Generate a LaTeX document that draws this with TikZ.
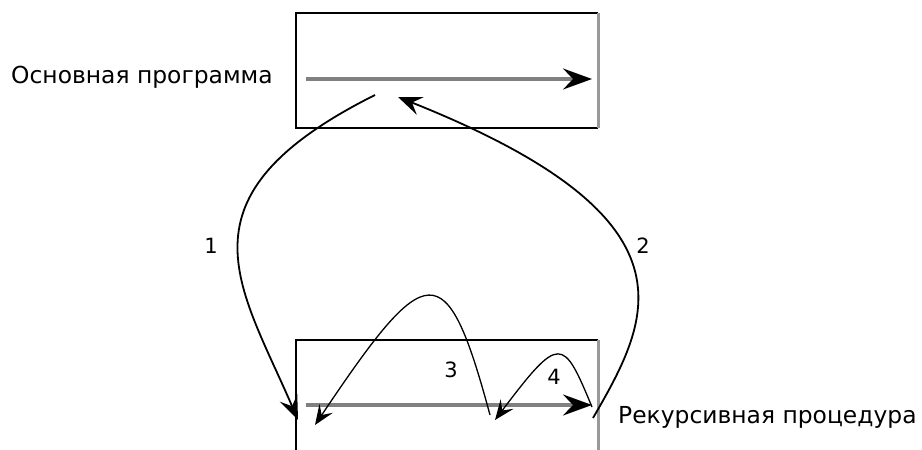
\documentclass[tikz,border=0pt]{standalone}
\usepackage{fontspec}
\setmainfont{DejaVu Sans}
\usetikzlibrary{arrows.meta}
\begin{document}
\begin{tikzpicture}[x=1pt,y=-1pt,
  boxline/.style={line width=1.5pt,black},
  shadeline/.style={line width=3pt,black!40},
  flow/.style={line width=3.2pt,black!50,-{Stealth[length=29pt,width=21pt,inset=10pt,color=black]}},
  jump/.style={line width=1.8pt,black,-{Stealth[length=24pt,width=19pt,inset=9pt]}},
  hop/.style={line width=1.3pt,black,-{Stealth[length=20pt,width=16pt,inset=8pt]}},
  title/.style={font=\fontsize{23.4}{27}\selectfont,inner sep=0pt,anchor=base west},
  num/.style={font=\fontsize{21}{24}\selectfont,inner sep=0pt,anchor=base}]
\useasboundingbox (0,0) rectangle (922,450);
% boxes
\coordinate (tl) at (296,13);
\coordinate (tr) at (598,13);
\coordinate (bl) at (296,128);
\coordinate (br) at (598,128);
\draw[boxline] (tr) -- (tl) -- (bl) -- (br);
\draw[shadeline] (tr) -- (br);
\coordinate (ul) at (296,340);
\coordinate (ur) at (598,340);
\coordinate (ulb) at (296,455);
\coordinate (urb) at (598,455);
\draw[boxline] (ulb) -- (ul) -- (ur);
\draw[shadeline] (ur) -- (urb);
% flow lines
\coordinate (fs1) at (306,79);
\coordinate (fe1) at (592,79);
\draw[flow] (fs1) -- (fe1);
\coordinate (fs2) at (306,405);
\coordinate (fe2) at (592,405);
\draw[flow] (fs2) -- (fe2);
% texts
\node[title] (main) at (11,83) {Основная программа};
\node[title] (rec) at (618,423) {Рекурсивная процедура};
\node[num] (n1) at (211,253) {1};
\node[num] (n2) at (643,253) {2};
\node[num] (n3) at (451,377) {3};
\node[num] (n4) at (554,384) {4};
% connectors
\coordinate (c1s) at (375,95);
\coordinate (c1e) at (298,420);
\draw[jump] (c1s) .. controls (171,197) and (240,285) .. (c1e);
\coordinate (c2s) at (593,418);
\coordinate (c2e) at (398,97);
\draw[jump] (c2s) .. controls (651,318) and (704,219) .. (c2e);
\coordinate (c3s) at (490,415);
\coordinate (c3e) at (315,425);
\draw[hop] (c3s) .. controls (446,252) and (427,258) .. (c3e);
\coordinate (c4s) at (592,407);
\coordinate (c4e) at (495,420);
\draw[hop] (c4s) .. controls (563,337) and (560,334) .. (c4e);
\end{tikzpicture}
\end{document}
